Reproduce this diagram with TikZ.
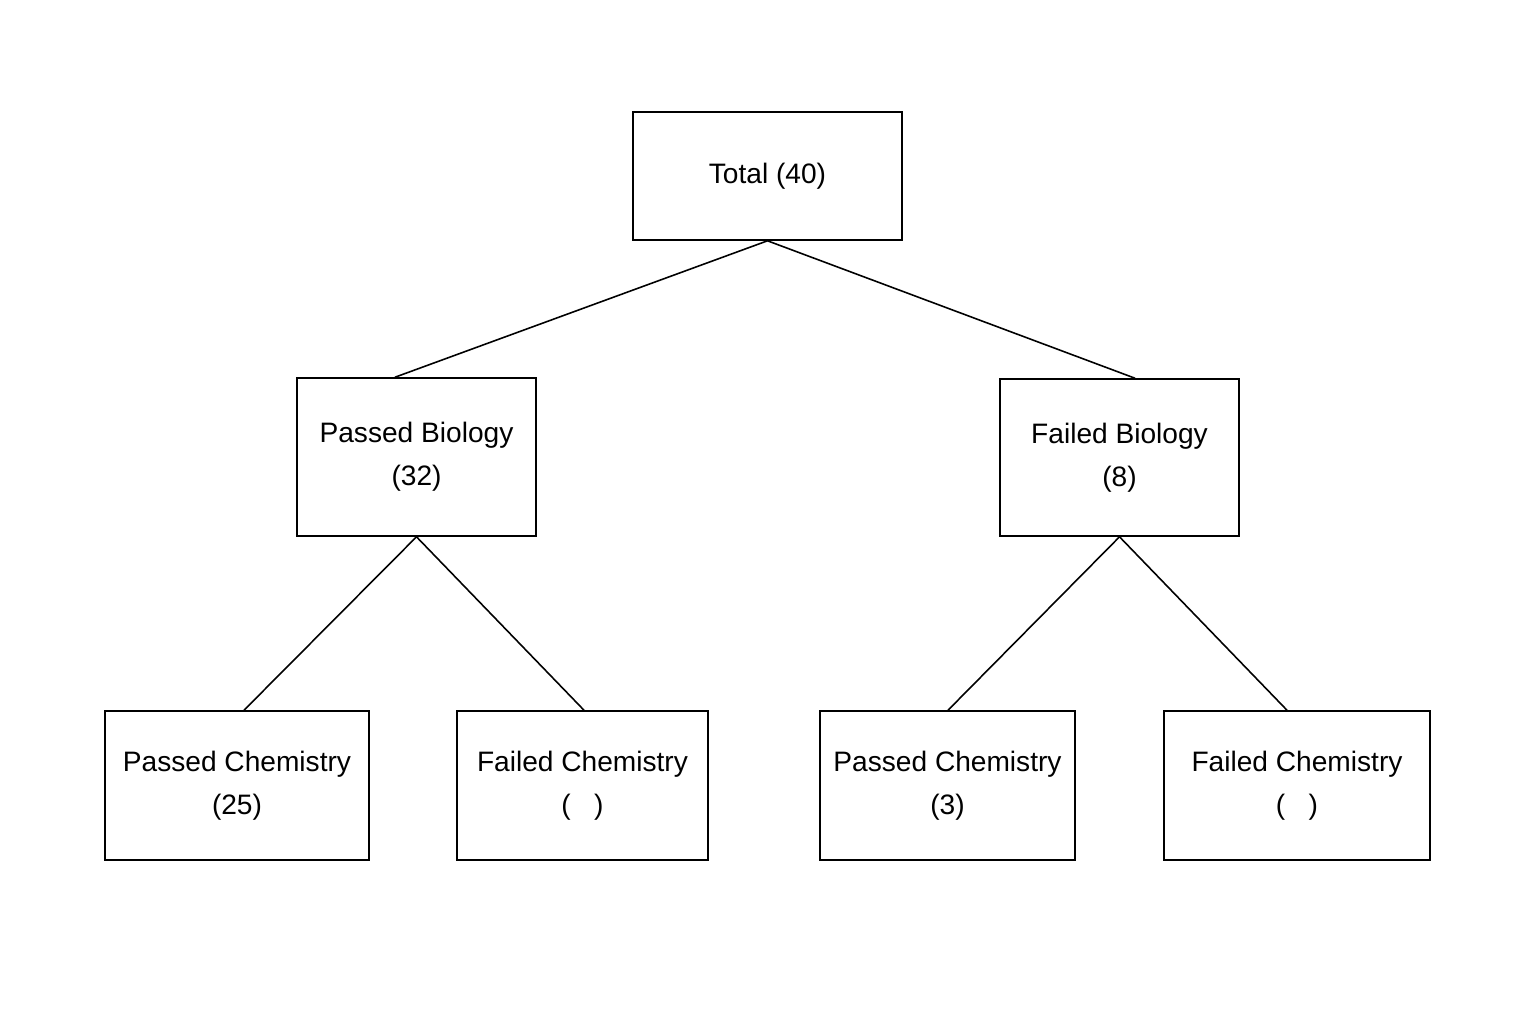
\documentclass[tikz,border=0pt]{standalone}
\usepackage{fontspec}
\setmainfont{Liberation Sans}
\begin{document}
\begin{tikzpicture}[
  box/.style={draw, line width=0.9pt, align=center, inner sep=0pt,
    font=\fontsize{16}{24.5}\selectfont},
  link/.style={line width=0.9pt}]
\useasboundingbox (0,0) rectangle (30.72,-20.48);

\node[box, minimum width=5.38cm, minimum height=2.56cm] (total) at (15.35, -3.52) {Total (40)};
\node[box, minimum width=4.78cm, minimum height=3.16cm] (pbio) at (8.33, -9.14) {Passed Biology\\(32)};
\node[box, minimum width=4.78cm, minimum height=3.14cm] (fbio) at (22.39, -9.15) {Failed Biology\\(8)};

\node[box, minimum width=5.28cm, minimum height=2.98cm] (pbpc) at (4.74, -15.71) {Passed Chemistry\\(25)};
\node[box, minimum width=5.02cm, minimum height=2.98cm] (pbfc) at (11.65, -15.71) {Failed Chemistry\\(\ \ \ )};
\node[box, minimum width=5.10cm, minimum height=2.98cm] (fbpc) at (18.95, -15.71) {Passed Chemistry\\(3)};
\node[box, minimum width=5.32cm, minimum height=2.98cm] (fbfc) at (25.94, -15.71) {Failed Chemistry\\(\ \ \ )};

\draw[link] (total.south) -- ([xshift=-0.43cm]pbio.north);
\draw[link] (total.south) -- ([xshift=0.31cm]fbio.north);
\draw[link] (pbio.south) -- ([xshift=0.14cm]pbpc.north);
\draw[link] (pbio.south) -- ([xshift=0.03cm]pbfc.north);
\draw[link] (fbio.south) -- ([xshift=0.01cm]fbpc.north);
\draw[link] (fbio.south) -- ([xshift=-0.2cm]fbfc.north);
\end{tikzpicture}
\end{document}
